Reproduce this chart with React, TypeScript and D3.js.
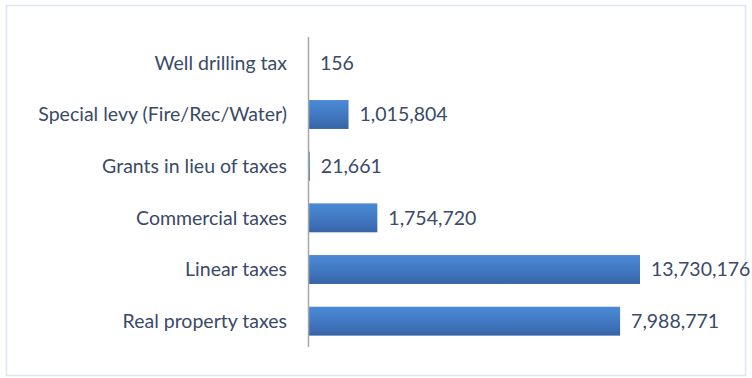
import React from "react";
import * as d3 from "d3";

// Revenue by tax category (top to bottom as drawn)
const categories: string[] = [
  "Well drilling tax",
  "Special levy (Fire/Rec/Water)",
  "Grants in lieu of taxes",
  "Commercial taxes",
  "Linear taxes",
  "Real property taxes",
];
const values: number[] = [156, 1015804, 21661, 1754720, 13730176, 7988771];

const W = 752;
const H = 378;
const axisX = 309;
const plotRight = 640;
const plotTop = 37;
const plotBottom = 347;
const xMax = 8500000;

const FONT = "Lato, 'Open Sans', sans-serif";
const TEXT = "#3a4a68";
const FS = 19.5;

export default function App() {
  const x = d3.scaleLinear().domain([0, xMax]).range([axisX, plotRight]).clamp(true);
  const y = d3
    .scaleBand<string>()
    .domain(categories)
    .range([plotTop, plotBottom])
    .paddingInner(0.44)
    .paddingOuter(0.22);
  const fmt = d3.format(",");

  return (
    <svg
      width={W}
      height={H}
      style={{ position: "absolute", left: 0, top: 0, background: "#fff" }}
    >
      <defs>
        <linearGradient id="barGrad" x1="0" y1="0" x2="0" y2="1">
          <stop offset="0%" stopColor="#4b8ad6" />
          <stop offset="50%" stopColor="#4279c3" />
          <stop offset="100%" stopColor="#3765a6" />
        </linearGradient>
      </defs>
      <rect x={6.5} y={5.5} width={739} height={370} fill="#fff" stroke="#dce5f1" strokeWidth={1.5} />
      {categories.map((c, i) => {
        const v = values[i];
        const y0 = y(c)!;
        const bw = y.bandwidth();
        const xEnd = x(v);
        return (
          <g key={c}>
            <rect x={axisX} y={y0} width={Math.max(0, xEnd - axisX)} height={bw} fill="url(#barGrad)" />
            <text
              x={axisX - 22}
              y={y0 + bw / 2}
              dy="0.35em"
              textAnchor="end"
              fontFamily={FONT}
              fontSize={FS}
              fill={TEXT}
            >
              {c}
            </text>
            <text
              x={xEnd + 11}
              y={y0 + bw / 2}
              dy="0.35em"
              textAnchor="start"
              fontFamily={FONT}
              fontSize={FS}
              fill={TEXT}
            >
              {fmt(v)}
            </text>
          </g>
        );
      })}
      <line x1={axisX - 0.5} x2={axisX - 0.5} y1={plotTop} y2={plotBottom} stroke="#a6a6a6" strokeWidth={1.5} />
    </svg>
  );
}
